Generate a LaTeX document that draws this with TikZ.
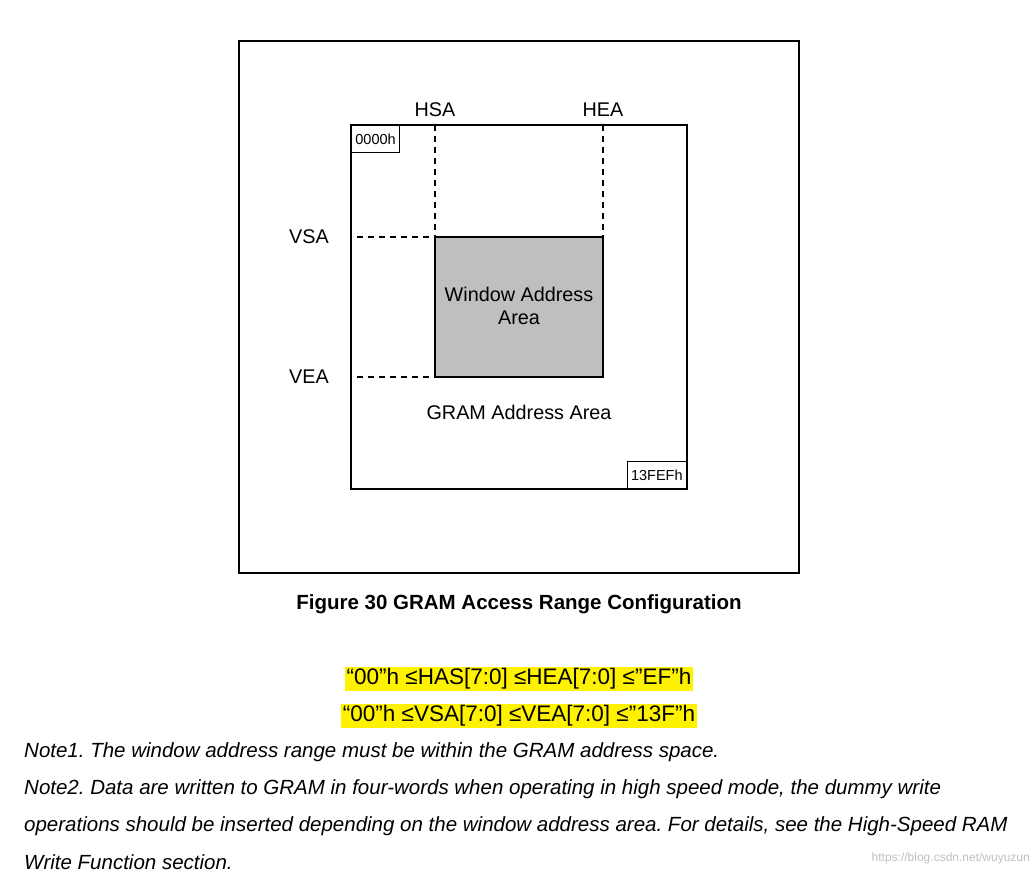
\documentclass[tikz,border=0pt]{standalone}
\usepackage{fontspec}
\setmainfont{Liberation Sans}
\usetikzlibrary{positioning}
\frenchspacing
\begin{document}
\begin{tikzpicture}[x=1pt,y=-1pt,
    box/.style = {draw, line width=1.4pt},
    guide/.style = {draw, dashed, line width=1.4pt, dash pattern=on 6pt off 5pt},
    lbl/.style = {font=\fontsize{19.8}{23}\selectfont, inner sep=0pt},
    tag/.style = {draw, line width=0.8pt, font=\fontsize{14.5}{16}\selectfont, inner sep=4pt, anchor=north west, minimum height=27pt},
    note/.style = {font=\fontsize{20.5}{24}\itshape\selectfont, anchor=west, inner sep=0pt},
    hl/.style = {fill=yellow, font=\fontsize{22.5}{26}\selectfont, inner sep=1.5pt}
]
\useasboundingbox (0,0) rectangle (1036,876);

% frames
\draw[box] (239,41) rectangle (799,573);
\draw[box] (351,125) rectangle (687,489);
\draw[box, fill=black!25] (435,237) rectangle (603,377);

% corner coordinates
\coordinate (hsa-top) at (435,125);
\coordinate (hea-top) at (603,125);
\coordinate (vsa-left) at (357,237);
\coordinate (vea-left) at (357,377);
\coordinate (win-nw) at (435,237);
\coordinate (win-ne) at (603,237);
\coordinate (win-sw) at (435,377);

\draw[guide] (hsa-top) -- (win-nw);
\draw[guide] (hea-top) -- (win-ne);
\draw[guide] (vsa-left) -- (win-nw);
\draw[guide] (vea-left) -- (win-sw);

\node[lbl] (hsa) at (435,110) {HSA};
\node[lbl] (hea) at (603,110) {HEA};
\node[lbl] (vsa) at (309,237) {VSA};
\node[lbl] (vea) at (309,377) {VEA};

\node[tag] (start) at (351,125) {0000h};
\node[tag, anchor=south east] (end) at (687,489) {13FEFh};

\node[lbl, align=center] (window) at (519,306) {Window Address\\Area};
\node[lbl] (gram) at (519,412) {GRAM Address Area};

\node[lbl, font=\fontsize{20.5}{24}\bfseries\selectfont] (caption) at (519,604)
    {Figure 30 GRAM Access Range Configuration};

\node[hl] (range1) at (519,679) {“00”h ≤HAS[7:0] ≤HEA[7:0] ≤”EF”h};
\node[hl] (range2) at (519,716) {“00”h ≤VSA[7:0] ≤VEA[7:0] ≤”13F”h};

\node[note] (note1) at (24,752) {Note1. The window address range must be within the GRAM address space.};
\node[note] (note2a) at (24,789) {Note2. Data are written to GRAM in four-words when operating in high speed mode, the dummy write};
\node[note] (note2b) at (24,826) {operations should be inserted depending on the window address area. For details, see the High-Speed RAM};
\node[note] (note2c) at (24,862) {Write Function section.};

\node[font=\fontsize{12}{14}\selectfont, text=black!25, anchor=east, inner sep=0pt] (mark) at (1030,858) {https://blog.csdn.net/wuyuzun};
\end{tikzpicture}
\end{document}
